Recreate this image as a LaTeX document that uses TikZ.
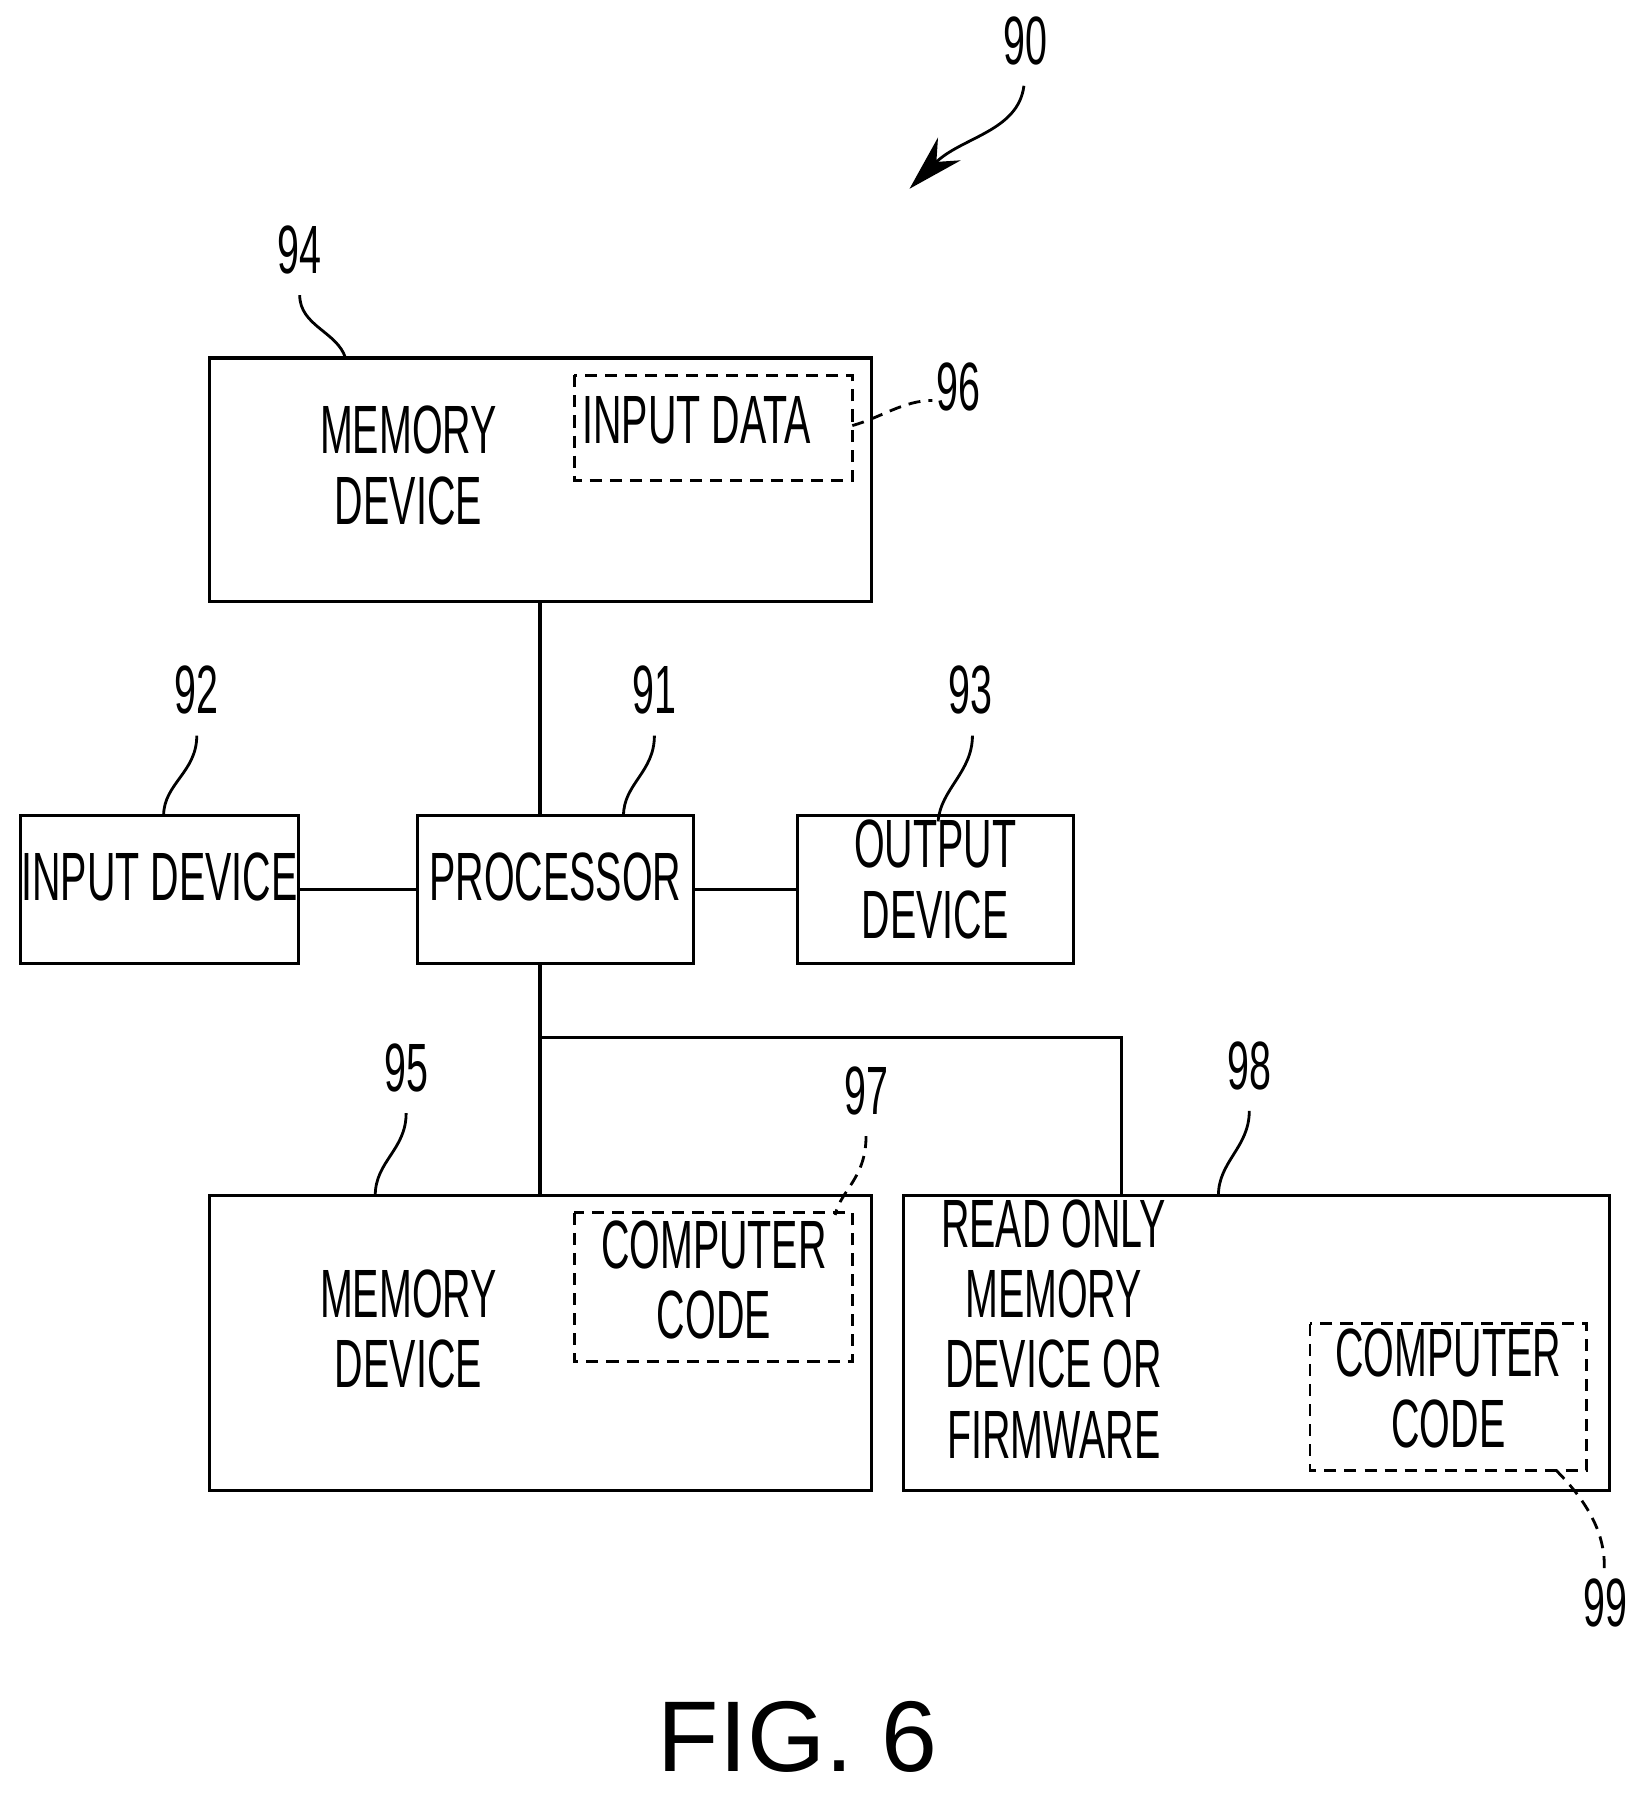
\documentclass[tikz,border=0pt]{standalone}
\usepackage{fontspec}
\usepackage{graphicx}
\setmainfont{Liberation Sans}[FakeStretch=0.78]
\newfontfamily\figfont{Liberation Sans}
\usetikzlibrary{arrows.meta}
\newcommand{\nt}[1]{\scalebox{0.74}[1]{\begin{tabular}{@{}c@{}}#1\end{tabular}}}
\begin{document}
\begin{tikzpicture}[x=0.02cm,y=-0.02cm,
  box/.style={draw,line width=1.6pt},
  dbox/.style={draw,line width=1.4pt,dash pattern=on 6pt off 4pt},
  txt/.style={font=\fontsize{34}{35}\selectfont,align=center,inner sep=0pt},
  lead/.style={line width=1.4pt},
  dlead/.style={line width=1.4pt,dash pattern=on 6pt off 4pt},
  conn/.style={line width=1.6pt}]
\useasboundingbox (0,0) rectangle (1440,1569);
\node[box,minimum width=579*0.02cm,minimum height=213*0.02cm] (mem1) at (472.5,419.5) {};
\draw[dbox] (502,328) rectangle (745,420);
\node[txt] (mem1t) at (357,415) {\nt{MEMORY\\DEVICE}};
\node[txt] (ind) at (609,375) {\nt{INPUT DATA}};
\node[box,minimum width=241*0.02cm,minimum height=129*0.02cm] (proc) at (485.5,777.5) {};
\node[txt] at (485.5,775) {\nt{PROCESSOR}};
\node[box,minimum width=243*0.02cm,minimum height=129*0.02cm] (inp) at (139.5,777.5) {};
\node[txt] at (139.5,775) {\nt{INPUT DEVICE}};
\node[box,minimum width=241*0.02cm,minimum height=129*0.02cm] (out) at (817.5,777.5) {};
\node[txt] at (817.5,777) {\nt{OUTPUT\\DEVICE}};
\node[box,minimum width=579*0.02cm,minimum height=258*0.02cm] (mem2) at (472.5,1174) {};
\draw[dbox] (502,1060) rectangle (745,1190);
\node[txt] at (357,1170) {\nt{MEMORY\\DEVICE}};
\node[txt] at (624,1127) {\nt{COMPUTER\\CODE}};
\node[box,minimum width=617*0.02cm,minimum height=258*0.02cm] (rom) at (1098.5,1174) {};
\node[txt] at (921,1170) {\nt{READ ONLY\\MEMORY\\DEVICE OR\\FIRMWARE}};
\draw[dbox] (1145,1157) rectangle (1387,1285);
\node[txt] at (1266,1222) {\nt{COMPUTER\\CODE}};
% connectors
\coordinate (j) at (472,907);
\draw[conn] (mem1.south -| j) -- (proc.north -| j);
\draw[conn] (inp.east) -- (proc.west);
\draw[conn] (proc.east) -- (out.west);
\draw[conn] (proc.south -| j) -- (mem2.north -| j);
\draw[conn] (j) -- (980,907) -- (rom.north -| 980,0);
% reference labels
\tikzset{num/.style={font=\fontsize{34}{40}\selectfont,inner sep=0pt}}
\node[num] at (262,225) {\nt{94}};
\draw[lead] (262,258) .. controls (262,285) and (295,290) .. (302,313);
\node[num] at (838,345) {\nt{96}};
\draw[dlead] (745,372) .. controls (770,365) and (790,350) .. (815,350);
\node[num] at (172,610) {\nt{92}};
\draw[lead] (172,643) .. controls (172,675) and (143,685) .. (143,713);
\node[num] at (572,610) {\nt{91}};
\draw[lead] (572,643) .. controls (572,675) and (545,685) .. (545,713);
\node[num] at (848,610) {\nt{93}};
\draw[lead] (850,643) .. controls (850,675) and (822,690) .. (820,718);
\node[num] at (355,940) {\nt{95}};
\draw[lead] (355,973) .. controls (355,1005) and (328,1015) .. (328,1045);
\node[num] at (757,960) {\nt{97}};
\draw[dlead] (757,993) .. controls (757,1030) and (735,1040) .. (730,1062);
\node[num] at (1092,938) {\nt{98}};
\draw[lead] (1092,971) .. controls (1092,1003) and (1065,1015) .. (1065,1045);
\node[num] at (1403,1408) {\nt{99}};
\draw[dlead] (1360,1285) .. controls (1385,1310) and (1405,1340) .. (1402,1375);
\node[num] at (896,42) {\nt{90}};
\draw[lead,-{Stealth[length=28pt,width=16pt]}] (895,75) .. controls (890,115) and (840,120) .. (795,165);
\node[font=\figfont\fontsize{50}{56}\selectfont,inner sep=0pt] at (697,1518) {FIG. 6};
\end{tikzpicture}
\end{document}
